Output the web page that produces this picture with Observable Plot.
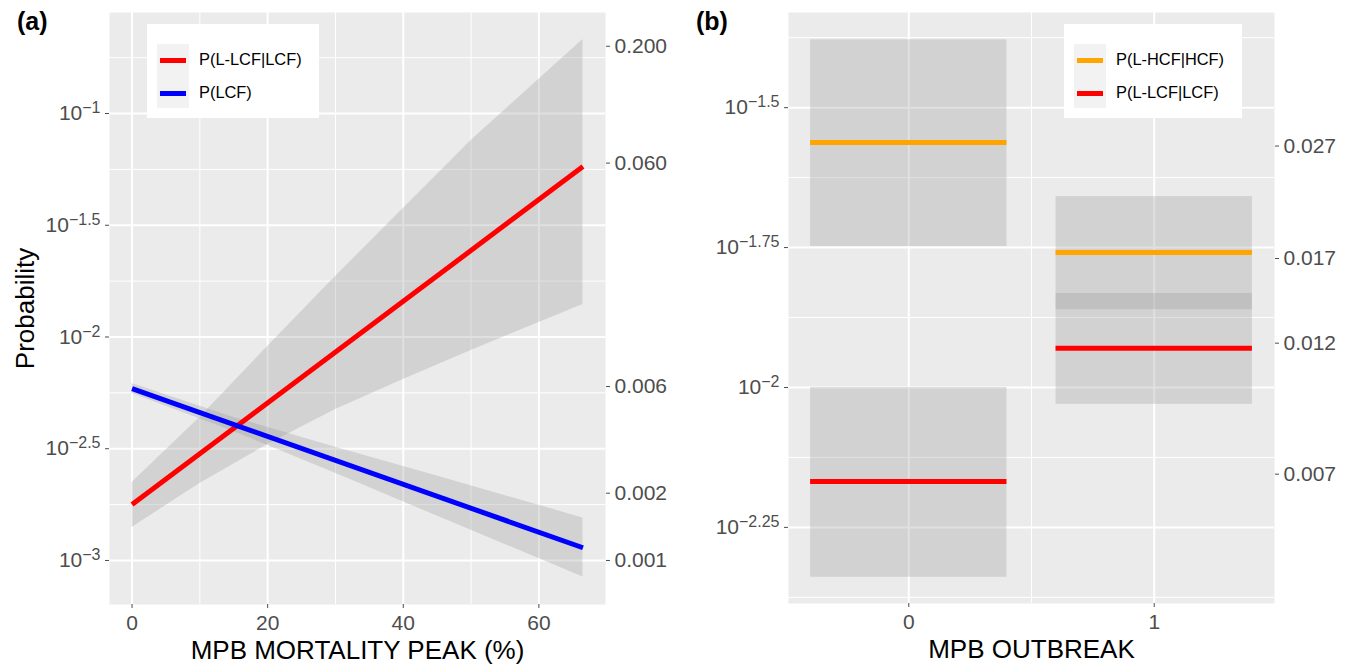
<!DOCTYPE html>
<html><head><meta charset="utf-8">
<script src="https://cdn.jsdelivr.net/npm/d3@7"></script>
<script src="https://cdn.jsdelivr.net/npm/@observablehq/plot@0.6"></script>
<style>
body{margin:0;background:#fff;}
#root{position:relative;width:1354px;height:667px;overflow:hidden;font-family:"Liberation Sans",Arial,sans-serif;}
.panel{position:absolute;top:0;}
.tag{position:absolute;font-weight:bold;font-size:25px;line-height:25px;color:#000;}
.legend{position:absolute;background:#fff;}
.keybg{position:absolute;background:#f2f2f2;}
.key{position:absolute;height:5px;}
.lab{position:absolute;font-size:16.4px;line-height:16.4px;color:#000;white-space:nowrap;}
</style></head>
<body><div id="root"></div>
<script>
// ---------- Panel (a) data ----------
const mortality = [0, 66.5];
const pLLCF_line = [0.00178, 0.0579];
const pLCF_line = [0.00588, 0.00114];
const redRibX = [0, 10, 20, 30, 40, 50, 66.5];
const redRibLo = [0.001405, 0.002211, 0.003304, 0.004738, 0.006452, 0.008700, 0.01398];
const redRibHi = [0.002234, 0.004362, 0.009068, 0.01865, 0.03757, 0.07570, 0.2144];
const blueRibX = [0, 15, 30, 45, 66.5];
const blueRibLo = [0.005589, 0.003781, 0.002458, 0.001580, 0.0008437];
const blueRibHi = [0.006191, 0.004368, 0.003213, 0.002385, 0.001550];
const xTicksA = [0, 20, 40, 60];
const xMinorA = [10, 30, 50];
const yExpA = [-1, -1.5, -2, -2.5, -3];
const yMinorExpA = [-0.75, -1.25, -1.75, -2.25, -2.75];
const rightTicksA = [0.2, 0.06, 0.006, 0.002, 0.001];

// ---------- Panel (b) data ----------
const outbreak = [0, 1];
const hcfP = [0.0274, 0.01742];
const hcfLo = [0.01786, 0.01377];
const hcfHi = [0.0418, 0.02193];
const lcfP = [0.00679, 0.01175];
const lcfLo = [0.00458, 0.00933];
const lcfHi = [0.0100, 0.01472];
const xTicksB = [0, 1];
const xMinorB = [0.5];
const yExpB = [-1.5, -1.75, -2, -2.25];
const yMinorExpB = [-1.375, -1.625, -1.875, -2.125, -2.375];
const rightTicksB = [0.027, 0.017, 0.012, 0.007];

const FONT = '"Liberation Sans", Arial, sans-serif';
const pow = e => Math.pow(10, e);
const expFmt = d => "10^" + (+Math.log10(d).toFixed(2));
const fmt3 = d3.format(".3f");

const redLine = mortality.map((x, i) => ({x, p: pLLCF_line[i]}));
const blueLine = mortality.map((x, i) => ({x, p: pLCF_line[i]}));
const redRib = redRibX.map((x, i) => ({x, lo: redRibLo[i], hi: redRibHi[i]}));
const blueRib = blueRibX.map((x, i) => ({x, lo: blueRibLo[i], hi: blueRibHi[i]}));

const ribFill = "#999999", ribOp = 0.3;

function rightAxis(ticks) {
  return [
    Plot.axisY({anchor: "right", ticks, tickFormat: () => "", tickSize: 4, label: null}),
    Plot.text(ticks, {y: d => d, frameAnchor: "right", dx: 9, textAnchor: "start", lineAnchor: "middle", text: fmt3, fontSize: 21, fill: "#4d4d4d"})
  ];
}

const plotA = Plot.plot({
  width: 680, height: 667,
  marginTop: 12, marginBottom: 63, marginLeft: 109, marginRight: 75,
  style: {fontFamily: FONT, fontSize: "21px", color: "#4d4d4d", background: "transparent", overflow: "visible"},
  x: {domain: [-3.325, 69.825]},
  y: {type: "log", domain: [pow(-3.197), pow(-0.548)]},
  marks: [
    Plot.frame({fill: "#ebebeb", stroke: null}),
    Plot.ruleX(xMinorA, {stroke: "white", strokeWidth: 1}),
    Plot.ruleY(yMinorExpA.map(pow), {stroke: "white", strokeWidth: 1}),
    Plot.ruleX(xTicksA, {stroke: "white", strokeWidth: 2}),
    Plot.ruleY(yExpA.map(pow), {stroke: "white", strokeWidth: 2}),
    Plot.areaY(redRib, {x: "x", y1: "lo", y2: "hi", fill: ribFill, fillOpacity: ribOp}),
    Plot.areaY(blueRib, {x: "x", y1: "lo", y2: "hi", fill: ribFill, fillOpacity: ribOp}),
    Plot.line(redLine, {x: "x", y: "p", stroke: "#ff0000", strokeWidth: 5, strokeLinecap: "butt"}),
    Plot.line(blueLine, {x: "x", y: "p", stroke: "#0000ff", strokeWidth: 5, strokeLinecap: "butt"}),
    Plot.axisX({ticks: xTicksA, tickSize: 4, tickPadding: 7, label: null, fontSize: 21}),
    Plot.axisY({anchor: "left", ticks: yExpA.map(pow), tickFormat: expFmt, tickSize: 4, tickPadding: 5, label: null, fontSize: 21}),
    ...rightAxis(rightTicksA),
    Plot.text(["MPB MORTALITY PEAK (%)"], {frameAnchor: "bottom", lineAnchor: "middle", textAnchor: "middle", dy: 46, fontSize: 26, fill: "black"}),
    Plot.text(["Probability"], {frameAnchor: "left", lineAnchor: "middle", textAnchor: "middle", dx: -84, rotate: -90, fontSize: 26, fill: "black"})
  ]
});

const rowsB = [];
outbreak.forEach((c, i) => {
  rowsB.push({c, s: "hcf", p: hcfP[i], lo: hcfLo[i], hi: hcfHi[i]});
  rowsB.push({c, s: "lcf", p: lcfP[i], lo: lcfLo[i], hi: lcfHi[i]});
});
const colB = {hcf: "#ffa500", lcf: "#ff0000"};

const plotB = Plot.plot({
  width: 674, height: 667,
  marginTop: 12, marginBottom: 64, marginLeft: 108, marginRight: 80,
  style: {fontFamily: FONT, fontSize: "21px", color: "#4d4d4d", background: "transparent", overflow: "visible"},
  x: {domain: [-0.49, 1.49]},
  y: {type: "log", domain: [pow(-2.386), pow(-1.330)]},
  marks: [
    Plot.frame({fill: "#ebebeb", stroke: null}),
    Plot.ruleX(xMinorB, {stroke: "white", strokeWidth: 1}),
    Plot.ruleY(yMinorExpB.map(pow), {stroke: "white", strokeWidth: 1}),
    Plot.ruleX(xTicksB, {stroke: "white", strokeWidth: 2}),
    Plot.ruleY(yExpB.map(pow), {stroke: "white", strokeWidth: 2}),
    Plot.rect(rowsB, {x1: d => d.c - 0.4, x2: d => d.c + 0.4, y1: "lo", y2: "hi", fill: ribFill, fillOpacity: ribOp}),
    Plot.ruleY(rowsB, {y: "p", x1: d => d.c - 0.4, x2: d => d.c + 0.4, stroke: d => colB[d.s], strokeWidth: 5, strokeLinecap: "butt"}),
    Plot.axisX({ticks: xTicksB, tickFormat: d => String(d), tickSize: 4, tickPadding: 7, label: null, fontSize: 21}),
    Plot.axisY({anchor: "left", ticks: yExpB.map(pow), tickFormat: expFmt, tickSize: 4, tickPadding: 5, label: null, fontSize: 21}),
    ...rightAxis(rightTicksB),
    Plot.text(["MPB OUTBREAK"], {frameAnchor: "bottom", lineAnchor: "middle", textAnchor: "middle", dy: 46, fontSize: 26, fill: "black"})
  ]
});

// superscript exponents
function superscripts(svg) {
  d3.select(svg).selectAll("text").each(function() {
    const t = this.textContent;
    if (t.startsWith("10^")) {
      const e = t.slice(3).replace("-", "\u2212");
      this.textContent = "";
      const s = d3.select(this);
      s.append("tspan").text("10");
      s.append("tspan").attr("dy", "-7").attr("font-size", 16).text(e);
    }
  });
}
superscripts(plotA);
superscripts(plotB);

const root = document.getElementById("root");
plotA.classList.add("panel"); plotA.style.left = "0px";
plotB.classList.add("panel"); plotB.style.left = "680px";
root.appendChild(plotA);
root.appendChild(plotB);

function addDiv(cls, css, text) {
  const d = document.createElement("div");
  d.className = cls;
  Object.assign(d.style, css);
  if (text) d.textContent = text;
  root.appendChild(d);
  return d;
}
addDiv("tag", {left: "17px", top: "9px"}, "(a)");
addDiv("tag", {left: "696px", top: "9px"}, "(b)");

function legend(left, items) {
  addDiv("legend", {left: left + "px", top: "24px", width: (items.w) + "px", height: "94px"});
  addDiv("keybg", {left: (left + 10) + "px", top: "44px", width: "32px", height: "64px"});
  items.list.forEach((it, i) => {
    const cy = 60.5 + i * 32.5;
    addDiv("key", {left: (left + 13) + "px", top: (cy - 2.5) + "px", width: "26px", background: it.color});
    addDiv("lab", {left: (left + 52) + "px", top: (cy - 9.5) + "px"}, it.label);
  });
}
const legendLabelsA = ["P(L-LCF|LCF)", "P(LCF)"];
const legendLabelsB = ["P(L-HCF|HCF)", "P(L-LCF|LCF)"];
legend(147, {w: 172, list: [{color: "#ff0000", label: legendLabelsA[0]}, {color: "#0000ff", label: legendLabelsA[1]}]});
legend(1064, {w: 178, list: [{color: "#ffa500", label: legendLabelsB[0]}, {color: "#ff0000", label: legendLabelsB[1]}]});
</script></body></html>
